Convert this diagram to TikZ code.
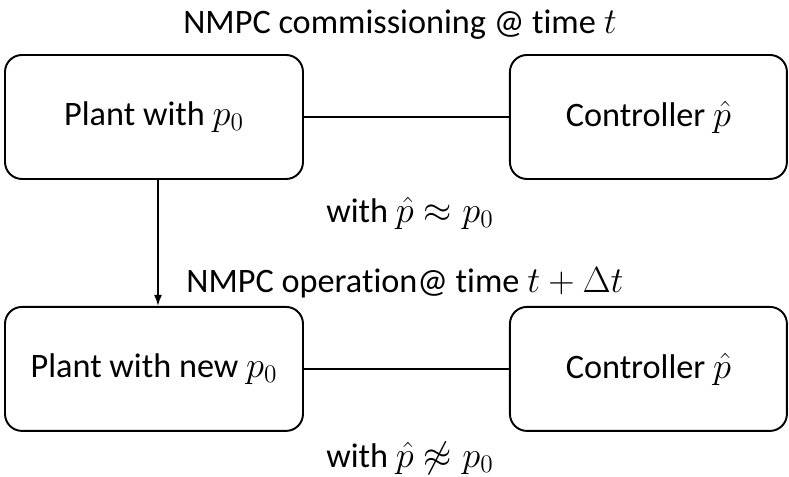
\documentclass[tikz,border=0pt]{standalone}
\usepackage{fontspec}
\setmainfont{Carlito}[Ligatures=NoCommon]
\usepackage{amsmath}
\usetikzlibrary{positioning, arrows.meta}

\tikzset{
  blockbox/.style={draw, rectangle, rounded corners=0.34cm, line width=1.1pt, align=center, minimum height=2.48cm},
  wire/.style={line width=1pt}
}

\begin{document}
\begin{tikzpicture}[font=\fontsize{19.5}{23}\selectfont]
			\useasboundingbox (0,0) rectangle (15.78,9.54);
			% --- Begin commissioning stage ---
			\node [blockbox, minimum width=5.96cm] at (3.08,7.2) (Plant) {Plant with $p_0$};
			\node [blockbox, minimum width=5.54cm, right=4.1cm of Plant] (Controller) {Controller $\hat{p}$};
			\draw [wire] (Plant) -- (Controller);
			\node at (8.0,9.04) (commissioning_label) {NMPC commissioning @ time $t$};
			\node at (8.2,5.28) (commissioning_match) {with $\hat{p} \approx p_0$};
			% --- End commissioning stage ---

			% --- Begin operation stage ---
			\node [blockbox, minimum width=5.96cm, below=2.52cm of Plant] (PlantNew) {Plant with new $p_0$};
			\node [blockbox, minimum width=5.54cm, right=4.1cm of PlantNew] (ControllerNew) {Controller $\hat{p}$};
			\draw [wire] (PlantNew) -- (ControllerNew);
			\node at (8.1,3.88) (operation_label) {NMPC operation@ time $t + \Delta t$};
			\node at (8.2,0.38) (operation_match) {with $\hat{p} \not\approx p_0$};
			% --- End operation stage ---

			% Parameter drift from one stage to the next
			\draw [wire, -{Latex[length=2.2mm, width=1.6mm]}] ([xshift=0.08cm]Plant.south) -- ([xshift=0.08cm]PlantNew.north);
		\end{tikzpicture}
\end{document}
